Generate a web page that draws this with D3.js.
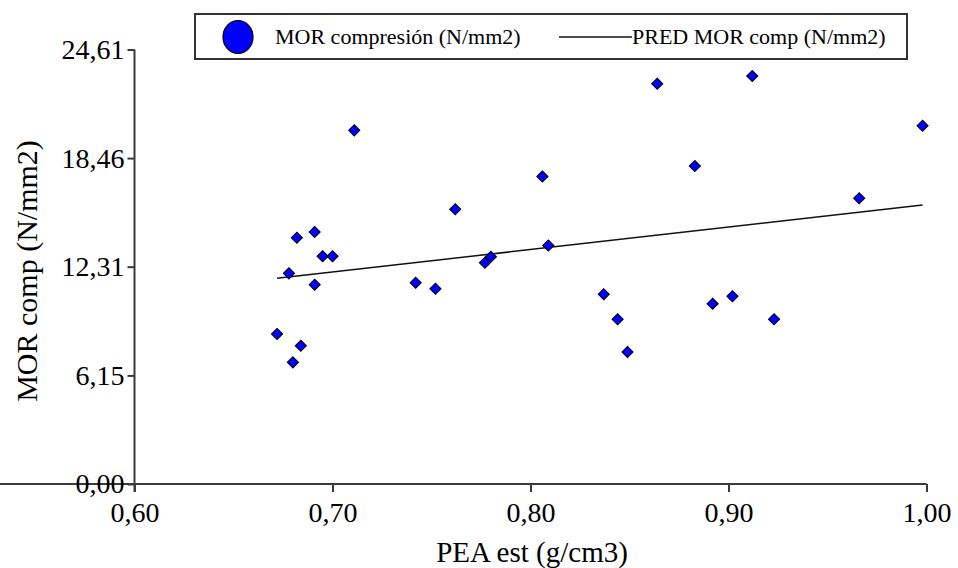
<!DOCTYPE html>
<html>
<head>
<meta charset="utf-8">
<script src="https://cdn.jsdelivr.net/npm/d3@7"></script>
<style>
  body { margin: 0; background: #fff; }
  text { font-family: "Liberation Serif", "Times New Roman", serif; }
</style>
</head>
<body>
<div id="chart"></div>
<script>
// datos
const pea = [0.672, 0.678, 0.680, 0.682, 0.684, 0.691, 0.691, 0.695, 0.700, 0.711,
             0.742, 0.752, 0.762, 0.777, 0.780, 0.806, 0.809, 0.837, 0.844, 0.849,
             0.864, 0.883, 0.892, 0.902, 0.912, 0.923, 0.966, 0.998];
const mor = [8.50, 11.93, 6.89, 13.95, 7.83, 14.27, 11.29, 12.90, 12.90, 20.03,
             11.40, 11.06, 15.56, 12.53, 12.87, 17.42, 13.51, 10.75, 9.33, 7.48,
             22.67, 18.01, 10.21, 10.63, 23.11, 9.33, 16.18, 20.29];
const predX = [0.672, 0.998];
const predY = [11.65, 15.80];
const xTicks = [0.60, 0.70, 0.80, 0.90, 1.00];
const yTicks = [0.00, 6.15, 12.31, 18.46, 24.61];

const width = 958, height = 568;
const fmt = d => d.toFixed(2).replace(".", ",");

const svg = d3.select("#chart").append("svg")
    .attr("width", width)
    .attr("height", height);

const x = d3.scaleLinear().domain([0.6, 1.0]).range([134.5, 926.5]);
const y = d3.scaleLinear().domain([0, 24.61]).range([484, 49.5]);

// ejes
const xAxis = svg.append("g")
    .attr("transform", "translate(0,484)")
    .call(d3.axisBottom(x).tickValues(xTicks).tickFormat(fmt).tickSize(8).tickSizeOuter(0).tickPadding(10));
const yAxis = svg.append("g")
    .attr("transform", "translate(134.5,0)")
    .call(d3.axisLeft(y).tickValues(yTicks).tickFormat(fmt).tickSize(7).tickSizeOuter(0).tickPadding(3));

[xAxis, yAxis].forEach(a => {
    a.selectAll("path, line").attr("stroke", "#3a3a3a").attr("stroke-width", 2);
    a.selectAll("text").attr("fill", "#000").style("font-size", "28px")
        .style("font-family", "'Liberation Serif', serif");
});
xAxis.select(".domain").attr("d", "M0,0H926.5");
yAxis.select(".domain").attr("d", "M0," + y(24.61) + "V" + 492);

// titulos
svg.append("text")
    .attr("x", 532).attr("y", 562)
    .attr("text-anchor", "middle")
    .style("font-size", "29px")
    .text("PEA est (g/cm3)");
svg.append("text")
    .attr("transform", "translate(37,271) rotate(-90)")
    .attr("text-anchor", "middle")
    .style("font-size", "30px")
    .text("MOR comp (N/mm2)");

// recta predicha
svg.append("path")
    .datum(predX.map((d, i) => [d, predY[i]]))
    .attr("fill", "none")
    .attr("stroke", "#111")
    .attr("stroke-width", 1.5)
    .attr("d", d3.line().x(d => x(d[0])).y(d => y(d[1])));

// puntos
const diamond = d3.symbol(d3.symbolSquare, 62);
svg.append("g")
    .selectAll("path")
    .data(pea.map((d, i) => ({ pea: d, mor: mor[i] })))
    .join("path")
    .attr("d", diamond)
    .attr("transform", d => `translate(${x(d.pea)},${y(d.mor)}) rotate(45)`)
    .attr("fill", "#0000ff")
    .attr("stroke", "#000")
    .attr("stroke-width", 1);

// leyenda
const lg = svg.append("g");
lg.append("rect")
    .attr("x", 195).attr("y", 14).attr("width", 712).attr("height", 45)
    .attr("fill", "#fff").attr("stroke", "#333").attr("stroke-width", 2);
lg.append("ellipse")
    .attr("cx", 238).attr("cy", 37).attr("rx", 15).attr("ry", 16.5)
    .attr("fill", "#0000ff").attr("stroke", "#000").attr("stroke-width", 1.2);
lg.append("text")
    .attr("x", 275).attr("y", 44)
    .style("font-size", "22px")
    .text("MOR compresión (N/mm2)");
lg.append("line")
    .attr("x1", 559).attr("x2", 632).attr("y1", 37).attr("y2", 37)
    .attr("stroke", "#111").attr("stroke-width", 1.5);
lg.append("text")
    .attr("x", 632).attr("y", 44)
    .style("font-size", "22px")
    .text("PRED MOR comp (N/mm2)");
</script>
</body>
</html>
